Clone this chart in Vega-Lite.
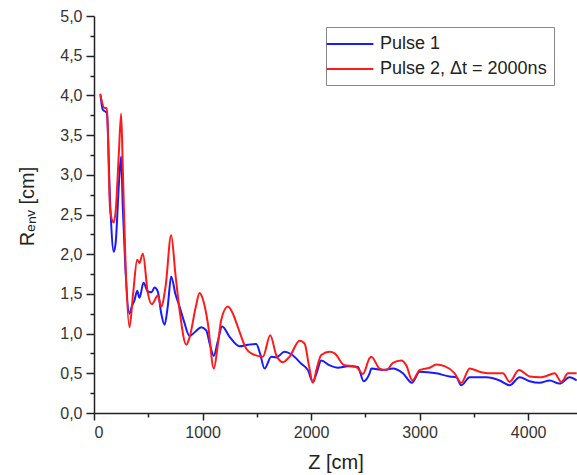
{
  "$schema": "https://vega.github.io/schema/vega-lite/v6.json",
  "width": 483,
  "height": 397,
  "autosize": {"type": "none"},
  "padding": {"left": 94, "top": 16, "right": 0, "bottom": 62},
  "background": "white",
  "data": {"values": [
    {"z":60,"r":4.0,"s":"Pulse 1"},{"z":81,"r":3.82,"s":"Pulse 1"},{"z":100,"r":3.8,"s":"Pulse 1"},{"z":118,"r":3.78,"s":"Pulse 1"},{"z":150,"r":2.6,"s":"Pulse 1"},{"z":182,"r":2.03,"s":"Pulse 1"},{"z":200,"r":2.15,"s":"Pulse 1"},{"z":230,"r":2.9,"s":"Pulse 1"},{"z":250,"r":3.23,"s":"Pulse 1"},{"z":265,"r":2.6,"s":"Pulse 1"},{"z":290,"r":1.8,"s":"Pulse 1"},{"z":327,"r":1.25,"s":"Pulse 1"},{"z":350,"r":1.35,"s":"Pulse 1"},{"z":373,"r":1.42,"s":"Pulse 1"},{"z":398,"r":1.54,"s":"Pulse 1"},{"z":419,"r":1.45,"s":"Pulse 1"},{"z":456,"r":1.64,"s":"Pulse 1"},{"z":496,"r":1.53,"s":"Pulse 1"},{"z":530,"r":1.52,"s":"Pulse 1"},{"z":558,"r":1.58,"s":"Pulse 1"},{"z":588,"r":1.53,"s":"Pulse 1"},{"z":620,"r":1.25,"s":"Pulse 1"},{"z":650,"r":1.11,"s":"Pulse 1"},{"z":680,"r":1.35,"s":"Pulse 1"},{"z":711,"r":1.72,"s":"Pulse 1"},{"z":750,"r":1.5,"s":"Pulse 1"},{"z":788,"r":1.34,"s":"Pulse 1"},{"z":830,"r":1.15,"s":"Pulse 1"},{"z":880,"r":0.97,"s":"Pulse 1"},{"z":930,"r":1.02,"s":"Pulse 1"},{"z":988,"r":1.08,"s":"Pulse 1"},{"z":1034,"r":1.04,"s":"Pulse 1"},{"z":1070,"r":0.85,"s":"Pulse 1"},{"z":1104,"r":0.72,"s":"Pulse 1"},{"z":1140,"r":0.9,"s":"Pulse 1"},{"z":1181,"r":1.09,"s":"Pulse 1"},{"z":1249,"r":0.96,"s":"Pulse 1"},{"z":1341,"r":0.84,"s":"Pulse 1"},{"z":1420,"r":0.86,"s":"Pulse 1"},{"z":1495,"r":0.87,"s":"Pulse 1"},{"z":1530,"r":0.75,"s":"Pulse 1"},{"z":1571,"r":0.56,"s":"Pulse 1"},{"z":1633,"r":0.71,"s":"Pulse 1"},{"z":1679,"r":0.7,"s":"Pulse 1"},{"z":1756,"r":0.77,"s":"Pulse 1"},{"z":1817,"r":0.74,"s":"Pulse 1"},{"z":1910,"r":0.62,"s":"Pulse 1"},{"z":1971,"r":0.54,"s":"Pulse 1"},{"z":2017,"r":0.39,"s":"Pulse 1"},{"z":2050,"r":0.5,"s":"Pulse 1"},{"z":2094,"r":0.66,"s":"Pulse 1"},{"z":2171,"r":0.6,"s":"Pulse 1"},{"z":2247,"r":0.57,"s":"Pulse 1"},{"z":2339,"r":0.59,"s":"Pulse 1"},{"z":2431,"r":0.58,"s":"Pulse 1"},{"z":2484,"r":0.4,"s":"Pulse 1"},{"z":2539,"r":0.5,"s":"Pulse 1"},{"z":2555,"r":0.56,"s":"Pulse 1"},{"z":2662,"r":0.54,"s":"Pulse 1"},{"z":2754,"r":0.56,"s":"Pulse 1"},{"z":2846,"r":0.5,"s":"Pulse 1"},{"z":2929,"r":0.38,"s":"Pulse 1"},{"z":3000,"r":0.52,"s":"Pulse 1"},{"z":3154,"r":0.5,"s":"Pulse 1"},{"z":3276,"r":0.46,"s":"Pulse 1"},{"z":3338,"r":0.45,"s":"Pulse 1"},{"z":3384,"r":0.35,"s":"Pulse 1"},{"z":3461,"r":0.45,"s":"Pulse 1"},{"z":3615,"r":0.45,"s":"Pulse 1"},{"z":3737,"r":0.41,"s":"Pulse 1"},{"z":3829,"r":0.35,"s":"Pulse 1"},{"z":3922,"r":0.45,"s":"Pulse 1"},{"z":4014,"r":0.4,"s":"Pulse 1"},{"z":4106,"r":0.38,"s":"Pulse 1"},{"z":4198,"r":0.41,"s":"Pulse 1"},{"z":4290,"r":0.37,"s":"Pulse 1"},{"z":4382,"r":0.45,"s":"Pulse 1"},{"z":4447,"r":0.41,"s":"Pulse 1"},
    {"z":57,"r":4.02,"s":"Pulse 2, Δt = 2000ns"},{"z":97,"r":3.84,"s":"Pulse 2, Δt = 2000ns"},{"z":118,"r":3.84,"s":"Pulse 2, Δt = 2000ns"},{"z":149,"r":2.55,"s":"Pulse 2, Δt = 2000ns"},{"z":182,"r":2.4,"s":"Pulse 2, Δt = 2000ns"},{"z":200,"r":2.55,"s":"Pulse 2, Δt = 2000ns"},{"z":230,"r":3.3,"s":"Pulse 2, Δt = 2000ns"},{"z":250,"r":3.77,"s":"Pulse 2, Δt = 2000ns"},{"z":265,"r":3.1,"s":"Pulse 2, Δt = 2000ns"},{"z":290,"r":1.9,"s":"Pulse 2, Δt = 2000ns"},{"z":327,"r":1.08,"s":"Pulse 2, Δt = 2000ns"},{"z":360,"r":1.5,"s":"Pulse 2, Δt = 2000ns"},{"z":398,"r":1.93,"s":"Pulse 2, Δt = 2000ns"},{"z":419,"r":1.89,"s":"Pulse 2, Δt = 2000ns"},{"z":450,"r":2.01,"s":"Pulse 2, Δt = 2000ns"},{"z":496,"r":1.51,"s":"Pulse 2, Δt = 2000ns"},{"z":533,"r":1.37,"s":"Pulse 2, Δt = 2000ns"},{"z":588,"r":1.48,"s":"Pulse 2, Δt = 2000ns"},{"z":619,"r":1.34,"s":"Pulse 2, Δt = 2000ns"},{"z":660,"r":1.6,"s":"Pulse 2, Δt = 2000ns"},{"z":711,"r":2.24,"s":"Pulse 2, Δt = 2000ns"},{"z":750,"r":1.75,"s":"Pulse 2, Δt = 2000ns"},{"z":788,"r":1.3,"s":"Pulse 2, Δt = 2000ns"},{"z":850,"r":0.86,"s":"Pulse 2, Δt = 2000ns"},{"z":880,"r":0.95,"s":"Pulse 2, Δt = 2000ns"},{"z":940,"r":1.35,"s":"Pulse 2, Δt = 2000ns"},{"z":972,"r":1.51,"s":"Pulse 2, Δt = 2000ns"},{"z":1010,"r":1.4,"s":"Pulse 2, Δt = 2000ns"},{"z":1049,"r":1.13,"s":"Pulse 2, Δt = 2000ns"},{"z":1104,"r":0.56,"s":"Pulse 2, Δt = 2000ns"},{"z":1140,"r":0.85,"s":"Pulse 2, Δt = 2000ns"},{"z":1172,"r":1.17,"s":"Pulse 2, Δt = 2000ns"},{"z":1233,"r":1.34,"s":"Pulse 2, Δt = 2000ns"},{"z":1280,"r":1.25,"s":"Pulse 2, Δt = 2000ns"},{"z":1326,"r":1.08,"s":"Pulse 2, Δt = 2000ns"},{"z":1403,"r":0.81,"s":"Pulse 2, Δt = 2000ns"},{"z":1449,"r":0.75,"s":"Pulse 2, Δt = 2000ns"},{"z":1556,"r":0.71,"s":"Pulse 2, Δt = 2000ns"},{"z":1624,"r":0.98,"s":"Pulse 2, Δt = 2000ns"},{"z":1679,"r":0.73,"s":"Pulse 2, Δt = 2000ns"},{"z":1740,"r":0.64,"s":"Pulse 2, Δt = 2000ns"},{"z":1802,"r":0.71,"s":"Pulse 2, Δt = 2000ns"},{"z":1894,"r":0.91,"s":"Pulse 2, Δt = 2000ns"},{"z":1940,"r":0.875,"s":"Pulse 2, Δt = 2000ns"},{"z":1980,"r":0.6,"s":"Pulse 2, Δt = 2000ns"},{"z":2017,"r":0.38,"s":"Pulse 2, Δt = 2000ns"},{"z":2050,"r":0.55,"s":"Pulse 2, Δt = 2000ns"},{"z":2094,"r":0.73,"s":"Pulse 2, Δt = 2000ns"},{"z":2171,"r":0.77,"s":"Pulse 2, Δt = 2000ns"},{"z":2217,"r":0.75,"s":"Pulse 2, Δt = 2000ns"},{"z":2309,"r":0.6,"s":"Pulse 2, Δt = 2000ns"},{"z":2401,"r":0.59,"s":"Pulse 2, Δt = 2000ns"},{"z":2431,"r":0.56,"s":"Pulse 2, Δt = 2000ns"},{"z":2477,"r":0.49,"s":"Pulse 2, Δt = 2000ns"},{"z":2539,"r":0.69,"s":"Pulse 2, Δt = 2000ns"},{"z":2555,"r":0.71,"s":"Pulse 2, Δt = 2000ns"},{"z":2631,"r":0.56,"s":"Pulse 2, Δt = 2000ns"},{"z":2693,"r":0.54,"s":"Pulse 2, Δt = 2000ns"},{"z":2754,"r":0.63,"s":"Pulse 2, Δt = 2000ns"},{"z":2831,"r":0.66,"s":"Pulse 2, Δt = 2000ns"},{"z":2877,"r":0.6,"s":"Pulse 2, Δt = 2000ns"},{"z":2933,"r":0.41,"s":"Pulse 2, Δt = 2000ns"},{"z":3000,"r":0.54,"s":"Pulse 2, Δt = 2000ns"},{"z":3092,"r":0.57,"s":"Pulse 2, Δt = 2000ns"},{"z":3154,"r":0.61,"s":"Pulse 2, Δt = 2000ns"},{"z":3230,"r":0.59,"s":"Pulse 2, Δt = 2000ns"},{"z":3323,"r":0.5,"s":"Pulse 2, Δt = 2000ns"},{"z":3384,"r":0.38,"s":"Pulse 2, Δt = 2000ns"},{"z":3461,"r":0.56,"s":"Pulse 2, Δt = 2000ns"},{"z":3553,"r":0.52,"s":"Pulse 2, Δt = 2000ns"},{"z":3645,"r":0.5,"s":"Pulse 2, Δt = 2000ns"},{"z":3768,"r":0.5,"s":"Pulse 2, Δt = 2000ns"},{"z":3829,"r":0.39,"s":"Pulse 2, Δt = 2000ns"},{"z":3915,"r":0.54,"s":"Pulse 2, Δt = 2000ns"},{"z":4014,"r":0.46,"s":"Pulse 2, Δt = 2000ns"},{"z":4106,"r":0.45,"s":"Pulse 2, Δt = 2000ns"},{"z":4152,"r":0.46,"s":"Pulse 2, Δt = 2000ns"},{"z":4244,"r":0.5,"s":"Pulse 2, Δt = 2000ns"},{"z":4306,"r":0.39,"s":"Pulse 2, Δt = 2000ns"},{"z":4367,"r":0.5,"s":"Pulse 2, Δt = 2000ns"},{"z":4447,"r":0.5,"s":"Pulse 2, Δt = 2000ns"}
  ]},
  "layer": [
    {
      "mark": {"type": "line", "interpolate": "monotone", "strokeWidth": 2, "clip": true},
      "encoding": {
        "x": {"field": "z", "type": "quantitative",
              "scale": {"domain": [0, 4450], "nice": false, "zero": false},
              "axis": {"title": "Z [cm]", "values": [0, 1000, 2000, 3000, 4000], "format": "d", "tickSize": 7, "labelPadding": 4, "titlePadding": 12}},
        "y": {"field": "r", "type": "quantitative",
              "scale": {"domain": [0, 5], "nice": false},
              "axis": {"title": "Rₑₙᵥ [cm]", "values": [0, 0.5, 1, 1.5, 2, 2.5, 3, 3.5, 4, 4.5, 5],
                       "labelExpr": "replace(format(datum.value, '.1f'), '.', ',')", "tickSize": 8, "labelPadding": 4,
                       "titleX": -57, "titleY": 190, "titleBaseline": "bottom", "titleAlign": "center"}},
        "color": {"field": "s", "type": "nominal",
                  "scale": {"domain": ["Pulse 1", "Pulse 2, Δt = 2000ns"], "range": ["#1a1aff", "#ff1a1a"]},
                  "legend": {"title": null, "orient": "none", "legendX": 232, "legendY": 11,
                             "symbolType": "M-2.7,0H2.7", "symbolSize": 300, "symbolStrokeWidth": 2, "symbolOffset": 7,
                             "labelFontSize": 18, "labelFont": "Liberation Sans", "labelColor": "#222",
                             "strokeColor": "#888", "fillColor": "white", "padding": 7,
                             "rowPadding": 6, "labelOffset": 20, "labelLimit": 400}}
      }
    },
    {
      "mark": {"type": "point", "opacity": 0},
      "encoding": {
        "x": {"field": "z", "type": "quantitative",
              "axis": {"orient": "bottom", "title": null, "labels": false, "domain": false, "values": [500, 1500, 2500, 3500], "tickSize": 4}},
        "y": {"field": "r", "type": "quantitative",
              "axis": {"orient": "left", "title": null, "labels": false, "domain": false, "values": [0.25, 0.75, 1.25, 1.75, 2.25, 2.75, 3.25, 3.75, 4.25, 4.75], "tickSize": 4}}
      }
    }
  ],
  "resolve": {"axis": {"x": "independent", "y": "independent"}},
  "config": {
    "view": {"stroke": null},
    "axis": {"grid": false, "domainColor": "#222", "tickColor": "#222", "domainWidth": 1.5, "tickWidth": 1.5,
             "labelFont": "Liberation Sans", "labelFontSize": 16, "labelColor": "#333",
             "titleFont": "Liberation Sans", "titleFontSize": 20, "titleFontWeight": "normal", "titleColor": "#222"}
  }
}
